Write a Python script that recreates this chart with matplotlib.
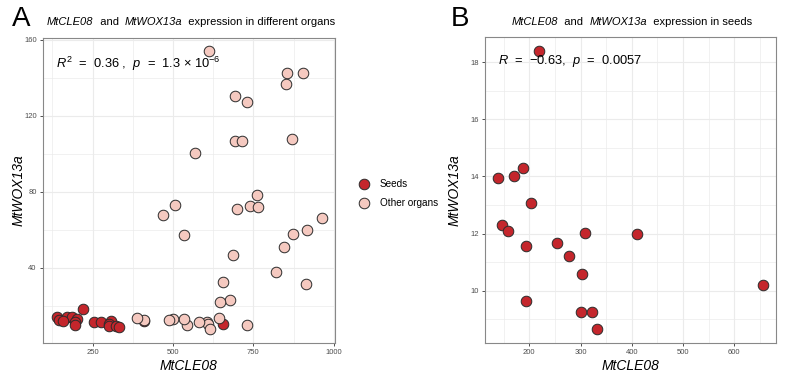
import numpy as np
import matplotlib.pyplot as plt

plt.rcParams['font.family'] = ['Liberation Sans', 'DejaVu Sans']
plt.rcParams['mathtext.fontset'] = 'custom'
plt.rcParams['mathtext.rm'] = 'Liberation Sans'
plt.rcParams['mathtext.it'] = 'Liberation Sans:italic'

# Seeds (shared by both panels)
seed_cle08 = [219, 138, 170, 187, 203, 146, 159, 194, 254, 277, 309, 411,
              302, 194, 301, 322, 333, 656]
seed_wox13a = [18.39, 13.94, 14.0, 14.29, 13.06, 12.29, 12.10, 11.58, 11.66, 11.20,
               12.02, 11.97, 10.59, 9.64, 9.27, 9.24, 8.66, 10.19]

# Other organs (panel A only)
other_cle08 = [612, 855, 905, 853, 694, 730, 694, 716, 870, 570,
               760, 740, 766, 700, 506, 470, 533, 963, 916, 872,
               845, 688, 821, 913, 656, 678, 647, 642, 605, 610,
               615, 731, 582, 544, 533, 499, 487, 411, 388]
other_wox13a = [154.2, 142.3, 142.3, 136.5, 130.5, 127.2, 106.7, 106.7, 107.6, 100.5,
                78.3, 72.6, 71.9, 71.1, 72.8, 67.9, 57.1, 66.0, 59.8, 57.6,
                50.9, 46.8, 37.9, 31.6, 32.3, 23.2, 22.0, 13.7, 11.3, 10.2,
                7.6, 9.7, 11.3, 9.8, 13.0, 12.8, 12.6, 12.5, 13.7]

seed_col = '#C4262C'
other_col = '#F5C9C0'
edge_col = '#2B2B2B'
grid_col = '#EBEBEB'
tick_col = '#4D4D4D'


def style_axes(ax, xmaj, xmin, ymaj, ymin):
    ax.set_xticks(xmaj)
    ax.set_xticks(xmin, minor=True)
    ax.set_yticks(ymaj)
    ax.set_yticks(ymin, minor=True)
    ax.grid(True, which='major', color=grid_col, lw=0.8, zorder=0)
    ax.grid(True, which='minor', color=grid_col, lw=0.5, zorder=0)
    ax.set_axisbelow(True)
    ax.tick_params(which='major', length=2.5, width=0.6, color='#333333',
                   labelsize=5.5, labelcolor=tick_col, pad=2)
    ax.tick_params(which='minor', length=0)
    for s in ax.spines.values():
        s.set_color('#888888')
        s.set_linewidth(0.8)


def mixed_title(ax, x, y, parts, size=8):
    # chain text pieces left to right, italic gene names
    t = ax.annotate(parts[0][0], xy=(x, y), xycoords='figure fraction',
                    fontsize=size, style=parts[0][1], va='center',
                    annotation_clip=False)
    for txt, st in parts[1:]:
        t = ax.annotate(txt, xy=(1, 0), xycoords=t, fontsize=size, style=st,
                        va='bottom', annotation_clip=False)


fig = plt.figure(figsize=(7.88, 3.77), dpi=100)

# Panel A
axA = fig.add_axes([43 / 788, 34 / 377, 292 / 788, 305 / 377])
axA.scatter(seed_cle08, seed_wox13a, s=58, c=seed_col, edgecolors=edge_col,
            linewidths=0.7, zorder=3, label='Seeds')
axA.scatter(other_cle08, other_wox13a, s=58, c=other_col, edgecolors=edge_col,
            linewidths=0.7, zorder=3, label='Other organs')
axA.set_xlim(96, 1004)
axA.set_ylim(0.4, 160.9)
style_axes(axA, [250, 500, 750, 1000], [125, 375, 625, 875],
           [40, 80, 120, 160], [20, 60, 100, 140])
axA.set_xlabel('MtCLE08', style='italic', fontsize=10, labelpad=2)
axA.set_ylabel('MtWOX13a', style='italic', fontsize=10)
axA.yaxis.set_label_coords(-0.058, 0.5)
axA.text(0.045, 0.915, r'$R^2$  =  0.36 ,  $p$  =  1.3 $\times$ 10$^{-6}$',
         transform=axA.transAxes, fontsize=9.3, va='center')

# Panel B
axB = fig.add_axes([485 / 788, 34 / 377, 291 / 788, 306 / 377])
axB.scatter(seed_cle08, seed_wox13a, s=58, c=seed_col, edgecolors=edge_col,
            linewidths=0.7, zorder=3)
axB.set_xlim(113.5, 681.4)
axB.set_ylim(8.17, 18.88)
style_axes(axB, [200, 300, 400, 500, 600], [150, 250, 350, 450, 550, 650],
           [10, 12, 14, 16, 18], [9, 11, 13, 15, 17])
axB.set_xlabel('MtCLE08', style='italic', fontsize=10, labelpad=2)
axB.set_ylabel('MtWOX13a', style='italic', fontsize=10)
axB.yaxis.set_label_coords(-0.079, 0.5)
axB.text(0.045, 0.92, r'$R$  =  $-$0.63,  $p$  =  0.0057',
         transform=axB.transAxes, fontsize=9.3, va='center')

# Titles and panel letters
fig.text(12 / 788, 1 - 19 / 377, 'A', fontsize=20, va='center')
mixed_title(axA, 47 / 788, 1 - 22 / 377,
            [('MtCLE08', 'italic'), ('  and  ', 'normal'), ('MtWOX13a', 'italic'),
             ('  expression in different organs', 'normal')])
fig.text(451 / 788, 1 - 19 / 377, 'B', fontsize=20, va='center')
mixed_title(axB, 512 / 788, 1 - 22 / 377,
            [('MtCLE08', 'italic'), ('  and  ', 'normal'), ('MtWOX13a', 'italic'),
             ('  expression in seeds', 'normal')])

# Legend
h, l = axA.get_legend_handles_labels()
fig.legend(h, l, loc='center left', bbox_to_anchor=(350 / 788, 1 - 193 / 377),
           frameon=False, fontsize=7.2, handletextpad=0.6, labelspacing=0.9,
           scatterpoints=1, borderaxespad=0)

fig.savefig('out.png', dpi=100)
